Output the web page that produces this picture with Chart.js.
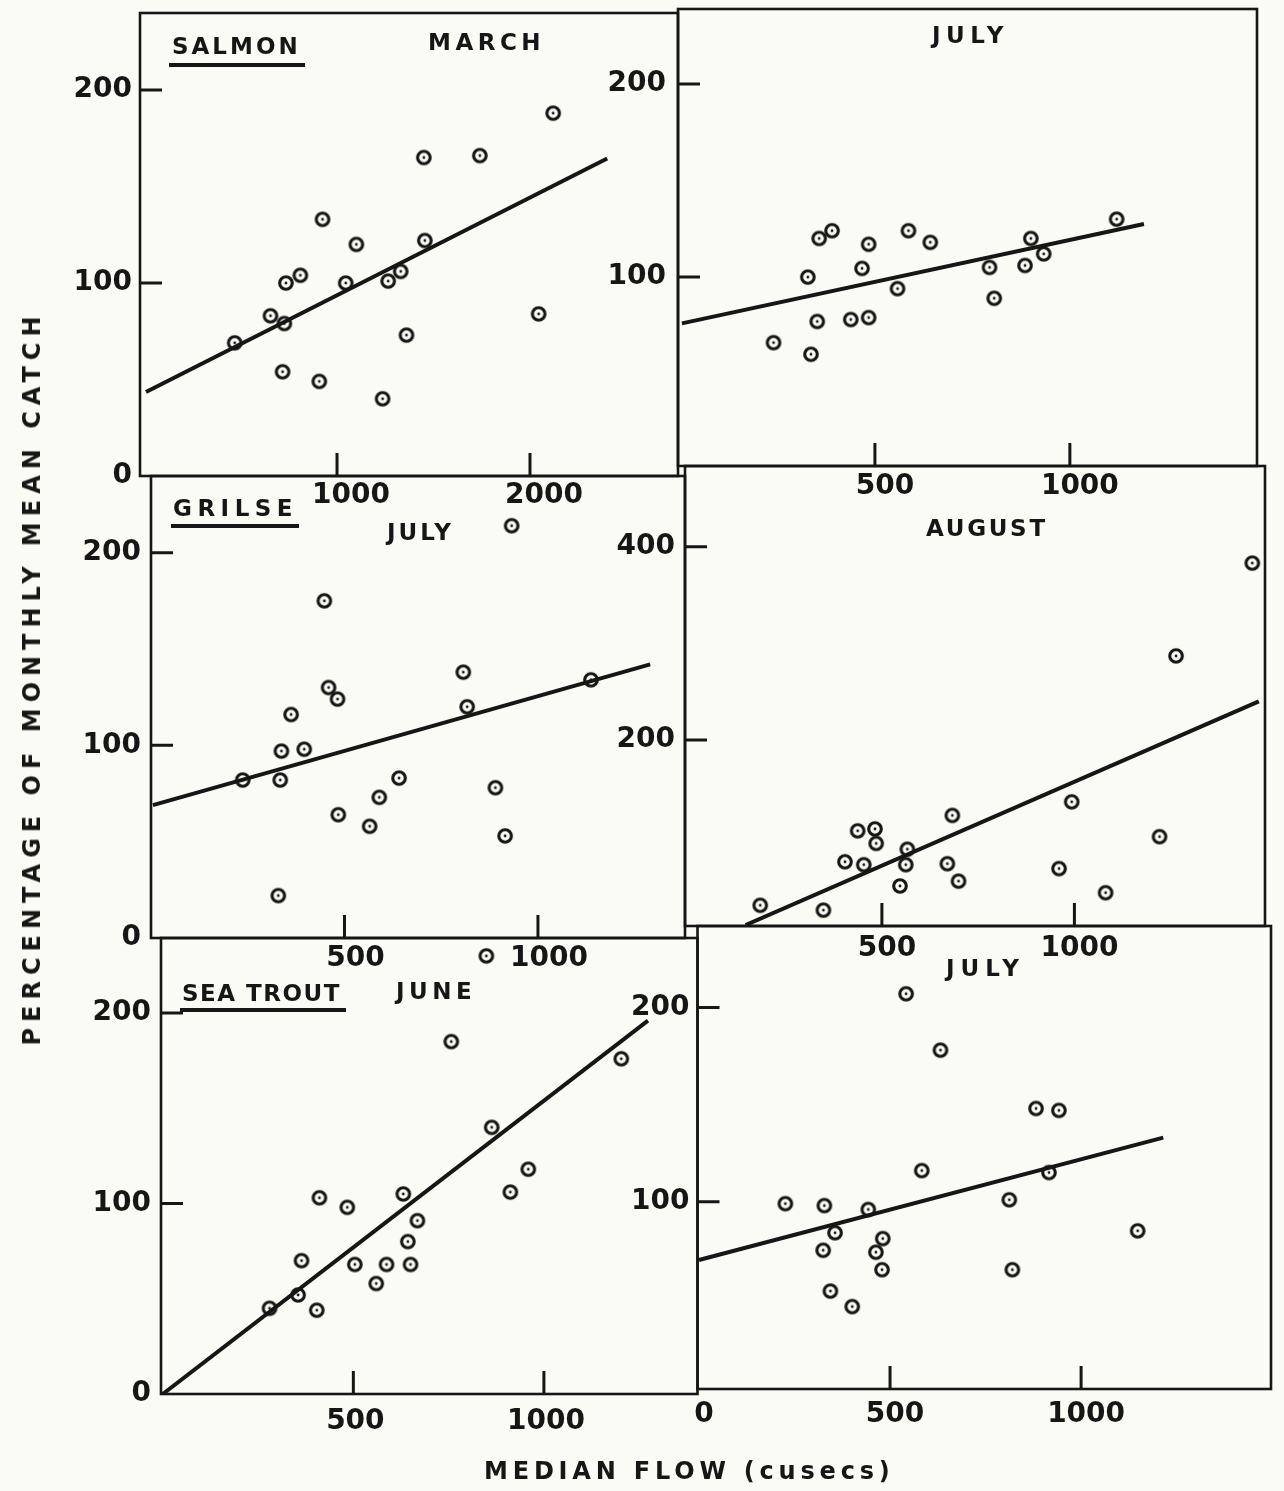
<!DOCTYPE html>
<html>
<head>
<meta charset="utf-8">
<script src="https://cdn.jsdelivr.net/npm/chart.js@4.4.0/dist/chart.umd.min.js"></script>
<style>
  html, body { margin: 0; padding: 0; background: #fbfbf5; }
  body { width: 1284px; height: 1491px; position: relative; overflow: hidden;
         font-family: "DejaVu Sans", sans-serif; color: #161616; }
  canvas { position: absolute; left: 0; top: 0; }
  .lbl { position: absolute; font-size: 23px; font-weight: bold; line-height: 1; white-space: nowrap; }
  .ul { position: absolute; height: 4px; background: #161616; }
</style>
</head>
<body>
<canvas id="c1" width="1284" height="1491"></canvas>
<canvas id="c2" width="1284" height="1491"></canvas>
<canvas id="c3" width="1284" height="1491"></canvas>
<canvas id="c4" width="1284" height="1491"></canvas>
<canvas id="c5" width="1284" height="1491"></canvas>
<canvas id="c6" width="1284" height="1491"></canvas>

<!-- panel titles -->
<div class="lbl" style="left:172px;top:35px;letter-spacing:3px">SALMON</div>
<div class="ul" style="left:169px;top:63px;width:136px"></div>
<div class="lbl" style="left:428px;top:31px;letter-spacing:4.5px">MARCH</div>
<div class="lbl" style="left:932px;top:24px;letter-spacing:5.5px">JULY</div>

<div class="lbl" style="left:173px;top:497px;letter-spacing:5.5px">GRILSE</div>
<div class="ul" style="left:171px;top:524px;width:128px"></div>
<div class="lbl" style="left:387px;top:521px;letter-spacing:3px">JULY</div>
<div class="lbl" style="left:926px;top:517px;letter-spacing:2.7px">AUGUST</div>

<div class="lbl" style="left:182px;top:982px;letter-spacing:1.5px">SEA TROUT</div>
<div class="ul" style="left:180px;top:1008px;width:166px"></div>
<div class="lbl" style="left:396px;top:980px;letter-spacing:4.5px">JUNE</div>
<div class="lbl" style="left:946px;top:957px;letter-spacing:6px">JULY</div>

<!-- axis titles -->
<div class="lbl" style="font-size:24px;letter-spacing:6px;left:32px;top:678px;transform:translate(-50%,-50%) rotate(-90deg)">PERCENTAGE OF MONTHLY MEAN CATCH</div>
<div class="lbl" style="font-size:24px;letter-spacing:4.8px;left:484px;top:1459px">MEDIAN FLOW (cusecs)</div>

<script>
const INK = "#161616";

// salmon - march
const salmonMarchFlow = [2120, 1450, 1740, 925, 1100, 1455, 810, 735, 1045, 1265, 1330, 655, 727, 470, 2045, 1360, 718, 908, 1236];
const salmonMarchCatch = [188, 165, 166, 133, 120, 122, 104, 100, 100, 101, 106, 83, 79, 69, 84, 73, 54, 49, 40];
const salmonMarchFit = [[10, 43.5], [2400, 164.5]];
const salmonMarchXTicks = [1000, 2000];
const salmonMarchYTicks = [0, 100, 200];

// salmon - july
const salmonJulyFlow = [1120, 390, 357, 586, 484, 642, 900, 933, 885, 794, 467, 328, 558, 806, 352, 438, 484, 240, 336];
const salmonJulyCatch = [130, 124, 120, 124, 117, 118, 120, 112, 106, 105, 104.5, 100, 94, 89, 77, 78, 79, 66, 60];
const salmonJulyFit = [[5, 76], [1190, 127.5]];
const salmonJulyXTicks = [500, 1000];
const salmonJulyYTicks = [100, 200];

// grilse - july
const grilseJulyFlow = [932, 448, 807, 1137, 459, 482, 362, 817, 337, 396, 237, 334, 641, 890, 590, 484, 565, 915, 329];
const grilseJulyCatch = [214, 175, 138, 134, 130, 124, 116, 120, 97, 98, 82, 82, 83, 78, 73, 64, 58, 53, 22];
const grilseJulyFit = [[5, 69], [1290, 142]];
const grilseJulyXTicks = [500, 1000];
const grilseJulyYTicks = [0, 100, 200];

// grilse - august
const grilseAugFlow = [1462, 1264, 993, 683, 1221, 437, 482, 485, 566, 404, 453, 562, 670, 960, 699, 547, 1081, 184, 348];
const grilseAugCatch = [383, 287, 136, 122, 100, 106, 108, 93, 87, 74, 71, 71, 72, 67, 54, 49, 42, 29, 24];
const grilseAugFit = [[146, 8.6], [1479, 240]];
const grilseAugXTicks = [500, 1000];
const grilseAugYTicks = [200, 400];

// sea trout - june
const troutJuneFlow = [849, 757, 1203, 863, 959, 912, 411, 631, 484, 668, 643, 364, 504, 587, 650, 560, 355, 404, 280];
const troutJuneCatch = [230, 185, 176, 140, 118, 106, 103, 105, 98, 91, 80, 70, 68, 68, 68, 58, 52, 44, 45];
const troutJuneFit = [[0, 0], [1273, 196]];
const troutJuneXTicks = [500, 1000];
const troutJuneYTicks = [0, 100, 200];

// sea trout - july
const troutJulyFlow = [542, 632, 882, 942, 583, 916, 226, 328, 812, 443, 1148, 356, 481, 325, 463, 479, 820, 344, 401];
const troutJulyCatch = [207, 178, 148, 147, 116, 115, 99, 98, 101, 96, 85, 84, 81, 75, 74, 65, 65, 54, 46];
const troutJulyFit = [[0, 70], [1215, 133]];
const troutJulyXTicks = [0, 500, 1000];
const troutJulyYTicks = [100, 200];

// ring marker with a dot in the middle
const ring = document.createElement("canvas");
ring.width = ring.height = 20;
const rc = ring.getContext("2d");
rc.strokeStyle = INK;
rc.lineWidth = 3.1;
rc.beginPath();
rc.arc(10, 10, 6.3, 0, Math.PI * 2);
rc.stroke();
rc.fillStyle = INK;
rc.beginPath();
rc.arc(10, 10, 1.4, 0, Math.PI * 2);
rc.fill();

// frame round each panel + short inward tick marks
const framePlugin = {
  id: "frame",
  afterDatasetsDraw(chart) {
    const { ctx, chartArea: a, scales } = chart;
    ctx.save();
    ctx.strokeStyle = INK;
    ctx.lineWidth = 2.6;
    ctx.strokeRect(a.left, a.top, a.right - a.left, a.bottom - a.top);
    ctx.lineWidth = 3;
    ctx.beginPath();
    scales.x.ticks.forEach((t) => {
      if (t.value === 0) return;
      const px = scales.x.getPixelForValue(t.value);
      ctx.moveTo(px, a.bottom);
      ctx.lineTo(px, a.bottom - 23);
    });
    scales.y.ticks.forEach((t) => {
      if (t.value === 0) return;
      const py = scales.y.getPixelForValue(t.value);
      ctx.moveTo(a.left, py);
      ctx.lineTo(a.left + 22, py);
    });
    ctx.stroke();
    ctx.restore();
  },
};

const toPoints = (xs, ys) => xs.map((x, i) => ({ x: x, y: ys[i] }));
const fitPoints = (f) => f.map((p) => ({ x: p[0], y: p[1] }));

const AXIS_W = 100;
const AXIS_H = 44;
const tickFont = { family: "DejaVu Sans", size: 28, weight: "bold" };

function makePanel(p) {
  const [L, T, R, B] = p.box;
  new Chart(document.getElementById(p.id), {
    type: "scatter",
    data: {
      datasets: [
        {
          data: toPoints(p.flow, p.catch),
          pointStyle: ring,
          pointRadius: 8,
          pointHoverRadius: 8,
        },
        {
          data: fitPoints(p.fit),
          showLine: true,
          borderColor: INK,
          borderWidth: 4,
          pointRadius: 0,
          fill: false,
        },
      ],
    },
    options: {
      responsive: false,
      animation: false,
      events: [],
      layout: {
        padding: { left: L - AXIS_W, top: T, right: 1284 - R, bottom: 1491 - B - AXIS_H },
      },
      plugins: { legend: { display: false }, tooltip: { enabled: false } },
      scales: {
        x: {
          type: "linear",
          position: "bottom",
          min: p.xr[0],
          max: p.xr[1],
          grid: { display: false, drawTicks: false },
          border: { display: false },
          afterBuildTicks: (s) => { s.ticks = p.xTicks.map((v) => ({ value: v })); },
          afterFit: (s) => {
            s.height = AXIS_H;
            s.paddingLeft = s.paddingRight = s.paddingTop = s.paddingBottom = 0;
          },
          ticks: {
            color: INK,
            font: tickFont,
            padding: p.xPad,
            labelOffset: p.xOff,
            maxRotation: 0,
            autoSkip: false,
            callback: (v) => String(v),
          },
        },
        y: {
          type: "linear",
          position: "left",
          min: p.yr[0],
          max: p.yr[1],
          grid: { display: false, drawTicks: false },
          border: { display: false },
          afterBuildTicks: (s) => { s.ticks = p.yTicks.map((v) => ({ value: v })); },
          afterFit: (s) => {
            s.width = AXIS_W;
            s.paddingLeft = s.paddingRight = s.paddingTop = s.paddingBottom = 0;
          },
          ticks: {
            color: INK,
            font: tickFont,
            padding: p.yPad,
            autoSkip: false,
            callback: (v) => String(v),
          },
        },
      },
    },
    plugins: [framePlugin],
  });
}

const panels = [
  { id: "c1", flow: salmonMarchFlow, catch: salmonMarchCatch, fit: salmonMarchFit,
    xTicks: salmonMarchXTicks, yTicks: salmonMarchYTicks,
    box: [140, 13, 678, 476], xr: [-21, 2767], yr: [0, 239.9], xPad: 3, xOff: 14, yPad: 8 },
  { id: "c2", flow: salmonJulyFlow, catch: salmonJulyCatch, fit: salmonJulyFit,
    xTicks: salmonJulyXTicks, yTicks: salmonJulyYTicks,
    box: [678, 9, 1257, 466], xr: [-5.1, 1480], yr: [2.1, 238.9], xPad: 4, xOff: 10, yPad: 12 },
  { id: "c3", flow: grilseJulyFlow, catch: grilseJulyCatch, fit: grilseJulyFit,
    xTicks: grilseJulyXTicks, yTicks: grilseJulyYTicks,
    box: [151, 476, 685, 938], xr: [0, 1380], yr: [0, 239.8], xPad: 4, xOff: 11, yPad: 10 },
  { id: "c4", flow: grilseAugFlow, catch: grilseAugCatch, fit: grilseAugFit,
    xTicks: grilseAugXTicks, yTicks: grilseAugYTicks,
    box: [685, 466, 1265, 926], xr: [-11.4, 1495], yr: [7.6, 483.4], xPad: 6, xOff: 5, yPad: 10 },
  { id: "c5", flow: troutJuneFlow, catch: troutJuneCatch, fit: troutJuneFit,
    xTicks: troutJuneXTicks, yTicks: troutJuneYTicks,
    box: [161, 938, 697.5, 1394], xr: [-4.7, 1403], yr: [0, 239.4], xPad: 11, xOff: 2, yPad: 10 },
  { id: "c6", flow: troutJulyFlow, catch: troutJulyCatch, fit: troutJulyFit,
    xTicks: troutJulyXTicks, yTicks: troutJulyYTicks,
    box: [697.5, 926, 1271, 1389], xr: [-3.9, 1497], yr: [3.6, 241.9], xPad: 9, xOff: 5, yPad: 8 },
];

panels.forEach(makePanel);
</script>
</body>
</html>
